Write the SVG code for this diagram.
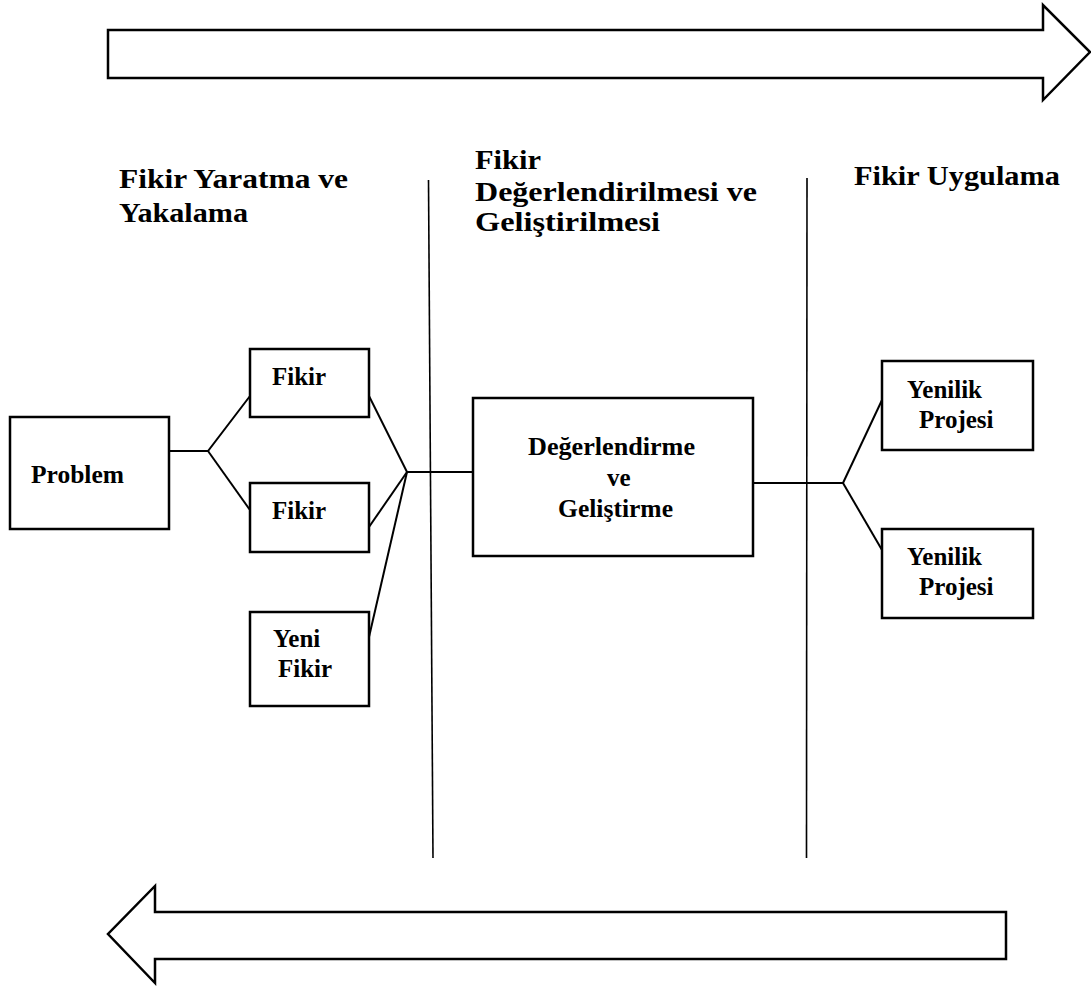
<svg xmlns="http://www.w3.org/2000/svg" width="1091" height="987" viewBox="0 0 1091 987">
<style>
.box{fill:#fff;stroke:#000;stroke-width:2.5}
.arrow{fill:#fff;stroke:#000;stroke-width:2.5;stroke-linejoin:miter}
.con{fill:none;stroke:#000;stroke-width:2}
.div{fill:none;stroke:#000;stroke-width:1.6}
.t{font-family:"Liberation Serif","Times New Roman",serif;font-weight:bold;font-size:25px;fill:#000}
.h{font-family:"Liberation Serif","Times New Roman",serif;font-weight:bold;font-size:28px;fill:#000}
</style>
<rect width="1091" height="987" fill="#fff"/>
<g id="arrow-top">
<polygon class="arrow" points="108,30 1043,30 1043,5 1090,52 1043,100 1043,78 108,78"/>
</g>
<g id="arrow-bottom">
<polygon class="arrow" points="1006,912 155,912 155,886 108,934 155,983 155,959 1006,959"/>
</g>
<g id="dividers">
<line class="div" x1="428.5" y1="180" x2="433" y2="858"/>
<line class="div" x1="807" y1="178" x2="806.5" y2="858"/>
</g>
<g id="headings">
<text class="h" x="119" y="188" textLength="229" lengthAdjust="spacingAndGlyphs">Fikir Yaratma ve</text>
<text class="h" x="119" y="222" textLength="129" lengthAdjust="spacingAndGlyphs">Yakalama</text>
<text class="h" x="475" y="169" textLength="66" lengthAdjust="spacingAndGlyphs">Fikir</text>
<text class="h" x="475" y="201" textLength="282" lengthAdjust="spacingAndGlyphs">Değerlendirilmesi ve</text>
<text class="h" x="475" y="231" textLength="185" lengthAdjust="spacingAndGlyphs">Geliştirilmesi</text>
<text class="h" x="854" y="185" textLength="206" lengthAdjust="spacingAndGlyphs">Fikir Uygulama</text>
</g>
<g id="connectors">
<polyline class="con" points="169,451 208,451 250,396"/>
<line class="con" x1="208" y1="451" x2="250" y2="510"/>
<line class="con" x1="369" y1="396" x2="407" y2="472"/>
<line class="con" x1="369" y1="527" x2="407" y2="472"/>
<line class="con" x1="369" y1="637" x2="407" y2="472"/>
<line class="con" x1="407" y1="472" x2="473" y2="472"/>
<line class="con" x1="753" y1="483" x2="843" y2="483"/>
<line class="con" x1="843" y1="483" x2="882" y2="400"/>
<line class="con" x1="843" y1="483" x2="882" y2="550"/>
</g>
<g id="problem">
<rect class="box" x="10" y="417" width="159" height="112"/>
<text class="t" x="31" y="483" textLength="93" lengthAdjust="spacingAndGlyphs">Problem</text>
</g>
<g id="fikir1">
<rect class="box" x="250" y="349" width="119" height="68"/>
<text class="t" x="272" y="385">Fikir</text>
</g>
<g id="fikir2">
<rect class="box" x="250" y="483" width="119" height="69"/>
<text class="t" x="272" y="519">Fikir</text>
</g>
<g id="yeni-fikir">
<rect class="box" x="250" y="612" width="119" height="94"/>
<text class="t" x="273" y="647">Yeni</text>
<text class="t" x="278" y="677">Fikir</text>
</g>
<g id="degerlendirme">
<rect class="box" x="473" y="398" width="280" height="158"/>
<text class="t" x="528" y="455" textLength="167" lengthAdjust="spacingAndGlyphs">Değerlendirme</text>
<text class="t" x="607" y="486">ve</text>
<text class="t" x="558" y="517" textLength="115" lengthAdjust="spacingAndGlyphs">Geliştirme</text>
</g>
<g id="yenilik1">
<rect class="box" x="882" y="361" width="151" height="89"/>
<text class="t" x="907" y="398">Yenilik</text>
<text class="t" x="919" y="428">Projesi</text>
</g>
<g id="yenilik2">
<rect class="box" x="882" y="529" width="151" height="89"/>
<text class="t" x="907" y="565">Yenilik</text>
<text class="t" x="919" y="595">Projesi</text>
</g>
</svg>
